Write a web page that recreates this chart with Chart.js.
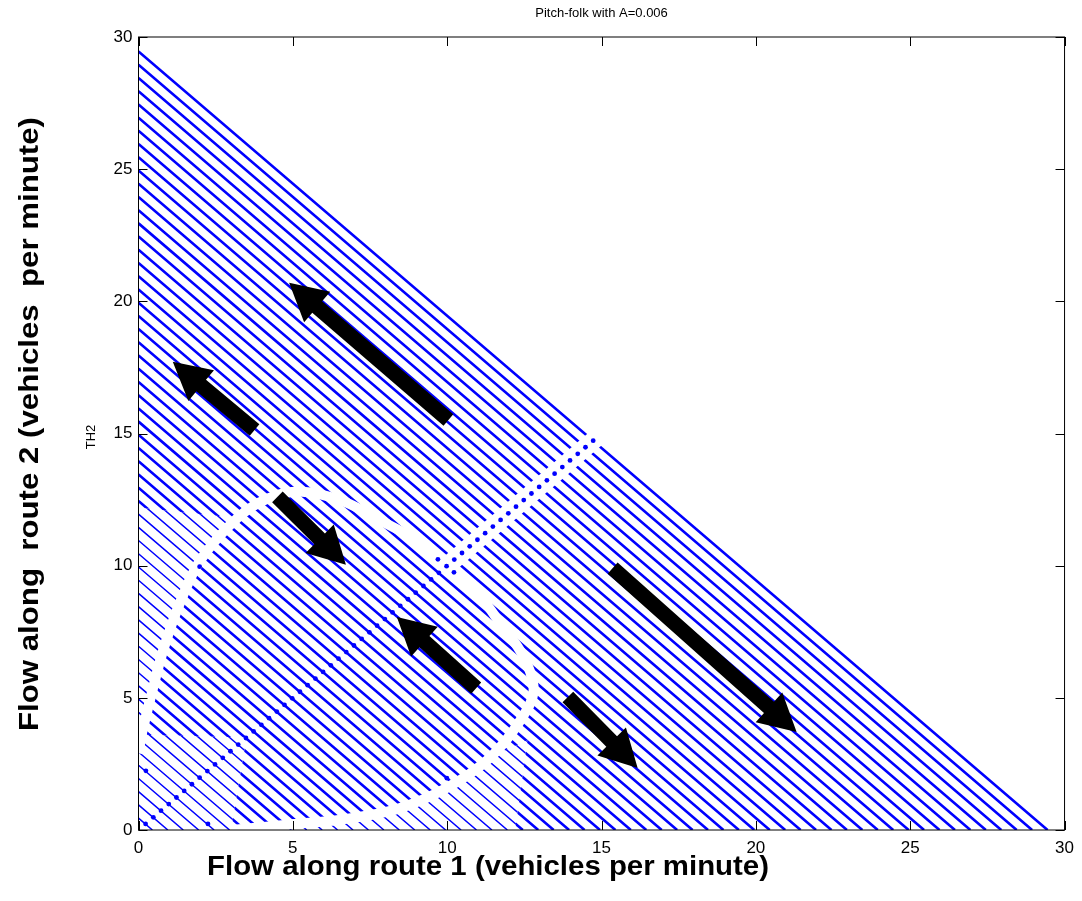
<!DOCTYPE html>
<html>
<head>
<meta charset="utf-8">
<script src="https://cdn.jsdelivr.net/npm/chart.js@4.4.0/dist/chart.umd.min.js"></script>
<style>
  html, body { margin: 0; padding: 0; background: #fff; }
</style>
</head>
<body>
<canvas id="pitchChart" width="1082" height="901"></canvas>
<script>
// trajectories x + y = c, read at the y axis
const intercepts = [0.45, 0.95, 1.45, 1.95, 2.45, 2.95, 3.45, 3.95, 4.45, 4.95,
  5.45, 5.95, 6.45, 6.95, 7.45, 7.95, 8.45, 8.95, 9.45, 9.95,
  10.45, 10.95, 11.45, 11.95, 12.45, 12.95, 13.45, 13.95, 14.45, 14.95,
  15.45, 15.95, 16.45, 16.95, 17.45, 17.95, 18.45, 18.95, 19.45, 19.95,
  20.45, 20.95, 21.45, 21.95, 22.45, 22.95, 23.45, 23.95, 24.45, 24.95,
  25.45, 25.95, 26.45, 26.95, 27.45, 27.95, 28.45, 28.95, 29.45];

// equilibrium dots on the diagonal (x = y)
const diagDots = [0.23, 0.48, 0.73, 0.98, 1.23, 1.48, 1.73, 1.98, 2.23, 2.48,
  2.73, 2.98, 3.23, 3.48, 3.73, 3.98, 4.23, 4.48, 4.73, 4.98,
  5.23, 5.48, 5.73, 5.98, 6.23, 6.48, 6.73, 6.98, 7.23, 7.48,
  7.73, 7.98, 8.23, 8.48, 8.73, 8.98, 9.23, 9.48, 9.73, 9.98,
  10.23, 10.48, 10.73, 10.98, 11.23, 11.48, 11.73, 11.98, 12.23, 12.48,
  12.73, 12.98, 13.23, 13.48, 13.73, 13.98, 14.23, 14.48, 14.73];

// other single dots
const extraDotX = [9.70, 10.22, 0.24, 2.25, 1.98, 9.99];
const extraDotY = [10.24, 9.75, 2.24, 0.23, 9.96, 1.96];

// white gap where the trajectories break (the curve round the centre)
const gapX = [0.0, 0.1, 0.37, 0.8, 1.34, 2.0, 3.2, 4.2, 5.3, 6.6, 7.8, 8.8, 9.5, 10.0,
  10.5, 11.1, 11.73, 12.45, 12.8, 12.4, 11.4, 10.0, 8.4, 6.6, 4.8, 3.0];
const gapY = [2.9, 3.6, 4.9, 6.8, 8.58, 10.2, 11.8, 12.55, 12.8, 12.45, 11.73, 11.1, 10.5, 10.0,
  9.5, 8.8, 7.8, 6.6, 5.3, 4.2, 2.75, 1.6, 0.8, 0.4, 0.2, 0.0];

// white band along the upper diagonal
const bandX = [9.9, 15.3];
const bandY = [9.9, 15.3];

// region where the trajectories are drawn thin
const thinX = [0, 0, 3.2, 2.0, 1.34, 0.8, 0.37, 0.1, 3.5, 3.0, 4.8, 6.6, 8.4, 10.0, 11.4, 12.6, 12.2];
const thinY = [0, 12.2, 11.8, 10.2, 8.58, 6.8, 4.9, 3.6, 3.5, 0.0, 0.2, 0.4, 0.8, 1.6, 2.75, 3.4, 0];

// black direction arrows: tail -> tip
const arrowTailX = [10.04, 3.76, 4.50, 10.94, 13.91, 15.36];
const arrowTailY = [15.51, 15.13, 12.60, 5.37, 5.03, 9.91];
const arrowTipX = [4.88, 1.11, 6.72, 8.37, 16.17, 21.32];
const arrowTipY = [20.70, 17.71, 10.03, 8.06, 2.35, 3.71];

const tickValues = [0, 5, 10, 15, 20, 25, 30];

const BLUE = "#0000ff";
const FONT = '"Liberation Sans", Arial, Helvetica, sans-serif';

const linePoints = [];
intercepts.forEach((c) => {
  linePoints.push({ x: 0, y: c }, { x: c, y: 0 }, { x: c, y: null });
});

function xy(xs, ys) {
  return xs.map((v, i) => ({ x: v, y: ys[i] }));
}

function drawArrow(ctx, x1, y1, x2, y2) {
  const dx = x2 - x1, dy = y2 - y1, len = Math.hypot(dx, dy);
  const ux = dx / len, uy = dy / len, nx = -uy, ny = ux;
  const hl = 37, hw = 20, sw = 7.5;
  const bx = x2 - ux * hl, by = y2 - uy * hl;
  ctx.beginPath();
  ctx.moveTo(x1 + nx * sw, y1 + ny * sw);
  ctx.lineTo(bx + nx * sw, by + ny * sw);
  ctx.lineTo(bx + nx * hw, by + ny * hw);
  ctx.lineTo(x2, y2);
  ctx.lineTo(bx - nx * hw, by - ny * hw);
  ctx.lineTo(bx - nx * sw, by - ny * sw);
  ctx.lineTo(x1 - nx * sw, y1 - ny * sw);
  ctx.closePath();
  ctx.fill();
}

function fitText(ctx, text, cx, cy, width, rot) {
  ctx.save();
  ctx.translate(cx, cy);
  ctx.rotate(rot);
  const w = ctx.measureText(text).width;
  ctx.scale(width / w, 1);
  ctx.fillText(text, 0, 0);
  ctx.restore();
}

const pitchPlugin = {
  id: "pitchPlugin",
  beforeDatasetDraw(chart, args) {
    const ds = chart.data.datasets[args.index];
    if (!ds.region) return;
    const ctx = chart.ctx, xs = chart.scales.x, ys = chart.scales.y, a = chart.chartArea;
    ctx.save();
    ctx.beginPath();
    if (ds.region === "outside") ctx.rect(a.left, a.top, a.right - a.left, a.bottom - a.top);
    thinX.forEach((v, i) => {
      const px = xs.getPixelForValue(v), py = ys.getPixelForValue(thinY[i]);
      if (i === 0) ctx.moveTo(px, py); else ctx.lineTo(px, py);
    });
    ctx.closePath();
    ctx.clip("evenodd");
  },
  afterDatasetDraw(chart, args) {
    if (chart.data.datasets[args.index].region) chart.ctx.restore();
  },
  afterDatasetsDraw(chart) {
    const ctx = chart.ctx, xs = chart.scales.x, ys = chart.scales.y;
    ctx.save();
    ctx.fillStyle = "#000";
    arrowTailX.forEach((v, i) => {
      drawArrow(ctx, xs.getPixelForValue(v), ys.getPixelForValue(arrowTailY[i]),
        xs.getPixelForValue(arrowTipX[i]), ys.getPixelForValue(arrowTipY[i]));
    });
    ctx.restore();
  },
  afterDraw(chart) {
    const ctx = chart.ctx, a = chart.chartArea, xs = chart.scales.x, ys = chart.scales.y;
    ctx.save();
    ctx.strokeStyle = "#000";
    ctx.lineWidth = 1;
    ctx.strokeRect(a.left, a.top, a.right - a.left, a.bottom - a.top);
    const tl = 9;
    ctx.beginPath();
    tickValues.forEach((t) => {
      const px = Math.round(xs.getPixelForValue(t)) + 0.5;
      const py = Math.round(ys.getPixelForValue(t)) + 0.5;
      ctx.moveTo(px, a.bottom); ctx.lineTo(px, a.bottom - tl);
      ctx.moveTo(px, a.top); ctx.lineTo(px, a.top + tl);
      ctx.moveTo(a.left, py); ctx.lineTo(a.left + tl, py);
      ctx.moveTo(a.right, py); ctx.lineTo(a.right - tl, py);
    });
    ctx.stroke();

    ctx.fillStyle = "#000";
    ctx.textAlign = "center";
    ctx.textBaseline = "middle";
    ctx.font = "13px " + FONT;
    ctx.fillText("Pitch-folk with A=0.006", (a.left + a.right) / 2, 13);
    ctx.font = "13px " + FONT;
    ctx.save();
    ctx.translate(91, 437);
    ctx.rotate(-Math.PI / 2);
    ctx.fillText("TH2", 0, 0);
    ctx.restore();
    ctx.font = "bold 27px " + FONT;
    fitText(ctx, "Flow along route 1 (vehicles per minute)", 488, 868, 562, 0);
    fitText(ctx, "Flow along  route 2 (vehicles  per minute)", 31, 424, 614, -Math.PI / 2);
    ctx.restore();
  }
};

new Chart(document.getElementById("pitchChart"), {
  type: "scatter",
  data: {
    datasets: [
      {
        label: "dots",
        data: xy(diagDots, diagDots).concat(xy(extraDotX, extraDotY)),
        showLine: false,
        pointRadius: 2.4,
        pointBackgroundColor: BLUE,
        pointBorderWidth: 0,
        order: 0,
      },
      {
        label: "band",
        data: xy(bandX, bandY),
        showLine: true,
        borderColor: "#fff",
        borderWidth: 18,
        pointRadius: 0,
        order: 1,
      },
      {
        label: "gap",
        data: xy(gapX, gapY),
        showLine: true,
        borderColor: "#fff",
        borderWidth: 10,
        tension: 0.35,
        pointRadius: 0,
        order: 2,
      },
      {
        label: "thick",
        data: linePoints,
        showLine: true,
        spanGaps: false,
        borderColor: BLUE,
        borderWidth: 2.6,
        pointRadius: 0,
        region: "outside",
        order: 3,
      },
      {
        label: "thin",
        data: linePoints,
        showLine: true,
        spanGaps: false,
        borderColor: BLUE,
        borderWidth: 1.5,
        pointRadius: 0,
        region: "inside",
        order: 4,
      },
    ],
  },
  options: {
    responsive: false,
    animation: false,
    events: [],
    layout: { padding: { top: 37, right: 13, bottom: 0, left: 0 } },
    plugins: { legend: { display: false }, tooltip: { enabled: false } },
    scales: {
      x: {
        type: "linear",
        min: 0,
        max: 30,
        afterFit: (scale) => { scale.height = 71; },
        afterBuildTicks: (scale) => { scale.ticks = tickValues.map((v) => ({ value: v })); },
        grid: { display: false, drawTicks: false },
        border: { display: false },
        ticks: { color: "#000", padding: 8, font: { size: 17, family: FONT } },
      },
      y: {
        type: "linear",
        min: 0,
        max: 30,
        afterFit: (scale) => { scale.width = 138.5; },
        afterBuildTicks: (scale) => { scale.ticks = tickValues.map((v) => ({ value: v })); },
        grid: { display: false, drawTicks: false },
        border: { display: false },
        ticks: { color: "#000", padding: 6, font: { size: 17, family: FONT } },
      },
    },
  },
  plugins: [pitchPlugin],
});
</script>
</body>
</html>
